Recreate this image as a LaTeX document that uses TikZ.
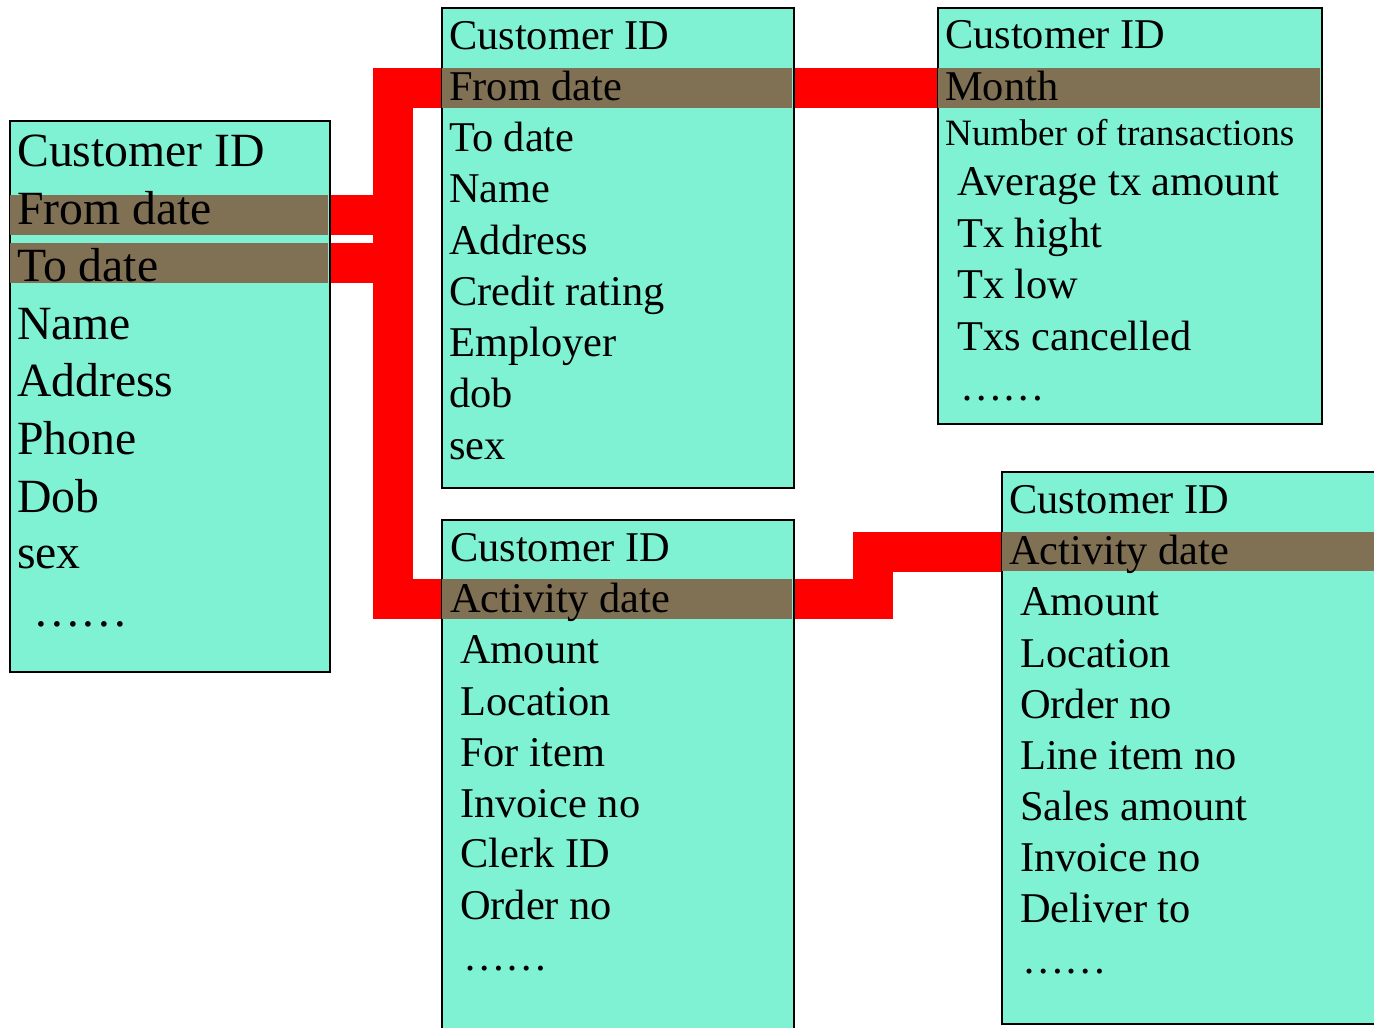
\documentclass[tikz,border=0pt]{standalone}
\usepackage{fontspec}
\setmainfont{Liberation Serif}
\usetikzlibrary{backgrounds}
\definecolor{tablecol}{RGB}{128,242,212}
\definecolor{keycol}{RGB}{128,112,84}
\definecolor{linkcol}{RGB}{255,0,0}
\tikzset{
  table/.style={fill=tablecol,draw=black,line width=2pt,anchor=north west,inner sep=0pt},
  keyrow/.style={fill=keycol,minimum height=40pt,inner sep=0pt},
  bigrow/.style={anchor=base west,inner sep=0pt,font=\fontsize{47.7}{50}\selectfont},
  row/.style={anchor=base west,inner sep=0pt,font=\fontsize{42.4}{45}\selectfont},
  smallrow/.style={anchor=base west,inner sep=0pt,font=\fontsize{37.2}{40}\selectfont},
  link/.style={linkcol,line width=40pt,line join=miter}
}

\begin{document}
\begin{tikzpicture}[x=1pt,y=-1pt]
  \useasboundingbox (0,0) rectangle (1374,1028);
  \clip (0,0) rectangle (1374,1028);

  % CUSTOMER TABLE
  \node[table,minimum width=320pt,minimum height=551pt] (cust) at (9,120) {};
  \node[keyrow,minimum width=318pt] (custFrom) at (169,215) {};
  \node[keyrow,minimum width=318pt] (custTo) at (169,263) {};
  \node[bigrow] (c1) at (17,166) {Customer ID};
  \node[bigrow] (c2) at (17,224) {From date};
  \node[bigrow] (c3) at (17,281) {To date};
  \node[bigrow] (c4) at (17,339) {Name};
  \node[bigrow] (c5) at (17,396) {Address};
  \node[bigrow] (c6) at (17,454) {Phone};
  \node[bigrow] (c7) at (17,512) {Dob};
  \node[bigrow] (c8) at (17,568) {sex};
  \node[bigrow] (c9) at (33,626) {……};

  % ACCOUNT TABLE
  \node[table,minimum width=352pt,minimum height=480pt] (acct) at (441,7) {};
  \node[keyrow,minimum width=350pt] (acctFrom) at (617,87.5) {};
  \node[row] (a1) at (449,49) {Customer ID};
  \node[row] (a2) at (449,100) {From date};
  \node[row] (a3) at (449,151) {To date};
  \node[row] (a4) at (449,202) {Name};
  \node[row] (a5) at (449,254) {Address};
  \node[row] (a6) at (449,305) {Credit rating};
  \node[row] (a7) at (449,356) {Employer};
  \node[row] (a8) at (449,407) {dob};
  \node[row] (a9) at (449,459) {sex};

  % MONTHLY TABLE
  \node[table,minimum width=384pt,minimum height=416pt] (month) at (937,7) {};
  \node[keyrow,minimum width=382pt] (monthKey) at (1129,87.5) {};
  \node[row] (m1) at (945,48) {Customer ID};
  \node[row] (m2) at (945,100) {Month};
  \node[smallrow] (m3) at (945,145) {Number of transactions};
  \node[row] (m4) at (957,195) {Average tx amount};
  \node[row] (m5) at (957,247) {Tx hight};
  \node[row] (m6) at (957,298) {Tx low};
  \node[row] (m7) at (957,350) {Txs cancelled};
  \node[row] (m8) at (960,400) {……};

  % ACTIVITY TABLE
  \node[table,minimum width=352pt,minimum height=521pt] (act) at (441,519) {};
  \node[keyrow,minimum width=350pt] (actDate) at (617,599) {};
  \node[row] (t1) at (450,561) {Customer ID};
  \node[row] (t2) at (450,612) {Activity date};
  \node[row] (t3) at (460,663) {Amount};
  \node[row] (t4) at (460,715) {Location};
  \node[row] (t5) at (460,766) {For item};
  \node[row] (t6) at (460,817) {Invoice no};
  \node[row] (t7) at (460,867) {Clerk ID};
  \node[row] (t8) at (460,919) {Order no};
  \node[row] (t9) at (463,970) {……};

  % SALES TABLE
  \node[table,minimum width=389pt,minimum height=552pt] (sales) at (1001,471) {};
  \node[keyrow,minimum width=387pt,minimum height=39.5pt] (salesDate) at (1195.5,551.5) {};
  \node[row] (s1) at (1009,513) {Customer ID};
  \node[row] (s2) at (1009,564) {Activity date};
  \node[row] (s3) at (1020,615) {Amount};
  \node[row] (s4) at (1020,667) {Location};
  \node[row] (s5) at (1020,718) {Order no};
  \node[row] (s6) at (1020,769) {Line item no};
  \node[row] (s7) at (1020,820) {Sales amount};
  \node[row] (s8) at (1020,871) {Invoice no};
  \node[row] (s9) at (1020,922) {Deliver to};
  \node[row] (s10) at (1022,973) {……};

  % LINKS
  \begin{scope}[on background layer]
    \coordinate (trunk) at (393,300);
    \coordinate (step) at (873,575);
    \draw[link] (acctFrom.west) -| (trunk) |- (actDate.west);
    \draw[link] (custFrom.east) -- (trunk |- custFrom.east);
    \draw[link] (custTo.east) -- (trunk |- custTo.east);
    \draw[link] (acctFrom.east) -- (monthKey.west);
    \draw[link] (actDate.east) -| (step) |- (salesDate.west);
  \end{scope}
\end{tikzpicture}
\end{document}
